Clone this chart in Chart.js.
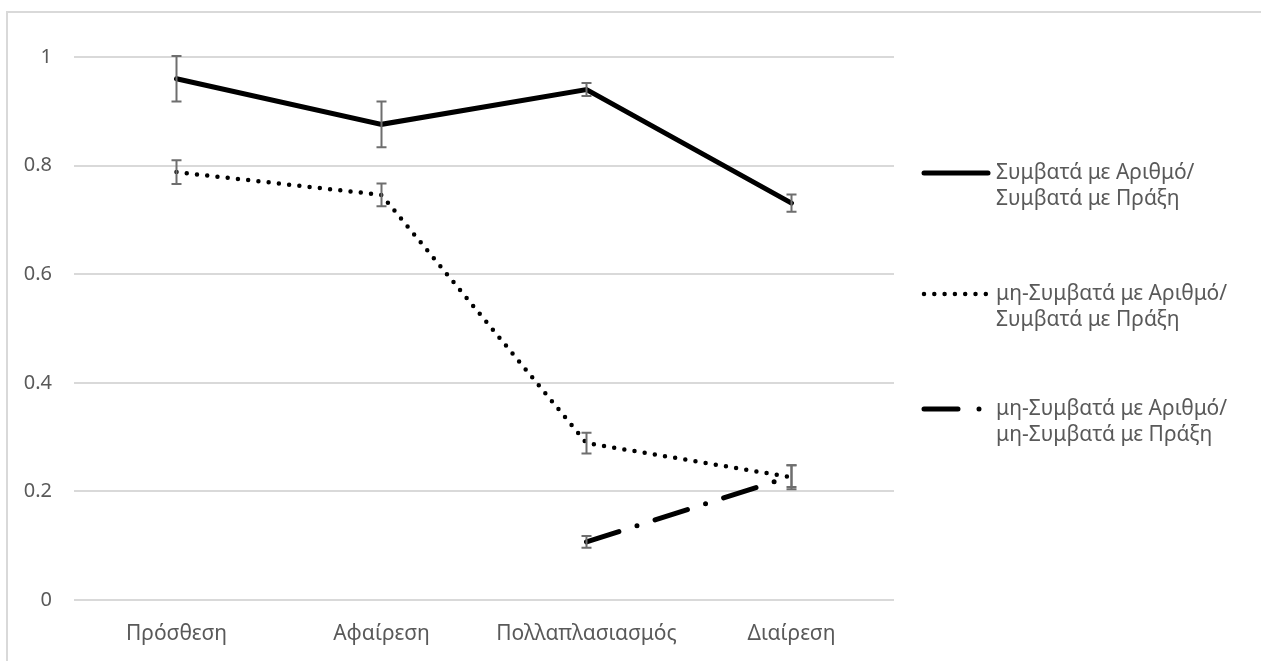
<!DOCTYPE html>
<html>
<head>
<meta charset="utf-8">
<script src="https://cdn.jsdelivr.net/npm/chart.js@4.4.0/dist/chart.umd.min.js"></script>
<style>
  html, body { margin: 0; padding: 0; background: #fff; }
  #wrap { position: relative; width: 1261px; height: 661px; overflow: hidden; }
  #frame { position: absolute; left: 6px; top: 11px; width: 1300px; height: 700px;
           border-top: 2px solid #d9d9d9; border-left: 2px solid #d9d9d9; }
  canvas { position: absolute; left: 0; top: 0; }
</style>
</head>
<body>
<div id="wrap">
  <div id="frame"></div>
  <canvas id="chart" width="1261" height="661"></canvas>
</div>
<script>
// operations on the x axis
var categories = ['Πρόσθεση', 'Αφαίρεση', 'Πολλαπλασιασμός', 'Διαίρεση'];

var seriesNames = [
    ['Συμβατά με Αριθμό/', 'Συμβατά με Πράξη'],
    ['μη-Συμβατά με Αριθμό/', 'Συμβατά με Πράξη'],
    ['μη-Συμβατά με Αριθμό/', 'μη-Συμβατά με Πράξη']
];

// mean values
var congruentBoth = [0.96, 0.876, 0.94, 0.731];
var incongNumber = [0.788, 0.746, 0.289, 0.226];
var incongBoth = [null, null, 0.107, 0.228];

// error bar half lengths
var errCongruentBoth = [0.042, 0.042, 0.012, 0.016];
var errIncongNumber = [0.022, 0.021, 0.019, 0.022];
var errIncongBoth = [null, null, 0.011, 0.02];

var yTicks = [0, 0.2, 0.4, 0.6, 0.8, 1];

var textColor = '#595959';
var fontFamily = '"Noto Sans", "Open Sans", sans-serif';

var errorBars = {
    id: 'errorBars',
    afterDatasetsDraw: function(chart){
        var ctx = chart.ctx;
        var y = chart.scales.y;
        ctx.save();
        ctx.strokeStyle = '#6e6e6e';
        ctx.lineWidth = 2;
        ctx.setLineDash([]);
        chart.data.datasets.forEach(function(ds, i){
            var meta = chart.getDatasetMeta(i);
            ds.errors.forEach(function(e, j){
                if ( e === null || ds.data[j] === null ) return;
                var px = meta.data[j].x;
                var top = y.getPixelForValue(ds.data[j] + e);
                var bot = y.getPixelForValue(ds.data[j] - e);
                ctx.beginPath();
                ctx.moveTo(px, top); ctx.lineTo(px, bot);
                ctx.moveTo(px - 5, top); ctx.lineTo(px + 5, top);
                ctx.moveTo(px - 5, bot); ctx.lineTo(px + 5, bot);
                ctx.stroke();
            });
        });
        ctx.restore();
    }
};

// legend on the right with two-line labels
var sideLegend = {
    id: 'sideLegend',
    afterDraw: function(chart){
        var ctx = chart.ctx;
        var rows = [173, 294, 409];
        ctx.save();
        chart.data.datasets.forEach(function(ds, i){
            var cy = rows[i];
            ctx.strokeStyle = '#000';
            ctx.lineWidth = ds.borderWidth;
            ctx.lineCap = 'round';
            ctx.setLineDash(ds.legendDash);
            ctx.beginPath();
            ctx.moveTo(924, cy);
            ctx.lineTo(988, cy);
            ctx.stroke();
            ctx.setLineDash([]);
            ctx.fillStyle = textColor;
            ctx.font = '21px ' + fontFamily;
            ctx.textBaseline = 'middle';
            ctx.textAlign = 'left';
            seriesNames[i].forEach(function(line, k){
                ctx.fillText(line, 996, cy + k * 26);
            });
        });
        ctx.restore();
    }
};

new Chart(document.getElementById('chart'), {
    type: 'line',
    data: {
        labels: categories,
        datasets: [
            {
                label: seriesNames[0].join(' '),
                data: congruentBoth,
                errors: errCongruentBoth,
                borderColor: '#000',
                borderWidth: 5,
                borderCapStyle: 'round',
                legendDash: []
            },
            {
                label: seriesNames[1].join(' '),
                data: incongNumber,
                errors: errIncongNumber,
                borderColor: '#000',
                borderWidth: 4.5,
                borderCapStyle: 'round',
                borderDash: [0, 10.3],
                legendDash: [0, 10.3]
            },
            {
                label: seriesNames[2].join(' '),
                data: incongBoth,
                errors: errIncongBoth,
                borderColor: '#000',
                borderWidth: 5,
                borderCapStyle: 'round',
                borderDash: [34, 19, 0, 19],
                legendDash: [34, 21, 0, 40]
            }
        ]
    },
    options: {
        responsive: false,
        animation: false,
        spanGaps: false,
        elements: {
            line: { tension: 0, fill: false },
            point: { radius: 0, hoverRadius: 0 }
        },
        layout: { padding: { left: 0, top: 57, right: 367, bottom: 0 } },
        plugins: {
            legend: { display: false },
            tooltip: { enabled: false }
        },
        scales: {
            x: {
                offset: true,
                grid: { display: false, drawTicks: false },
                border: { display: false },
                ticks: { color: textColor, font: { family: fontFamily, size: 21 }, padding: 21, maxRotation: 0 },
                afterFit: function(s){ s.height = 61; }
            },
            y: {
                min: 0,
                max: 1,
                afterBuildTicks: function(s){ s.ticks = yTicks.map(function(v){ return { value: v }; }); },
                grid: { color: '#d9d9d9', lineWidth: 2, drawTicks: false },
                border: { display: false },
                ticks: {
                    color: textColor,
                    font: { family: fontFamily, size: 20 },
                    padding: 22,
                    callback: function(v){ return String(v); }
                },
                afterFit: function(s){ s.width = 74; }
            }
        }
    },
    plugins: [errorBars, sideLegend]
});
</script>
</body>
</html>
